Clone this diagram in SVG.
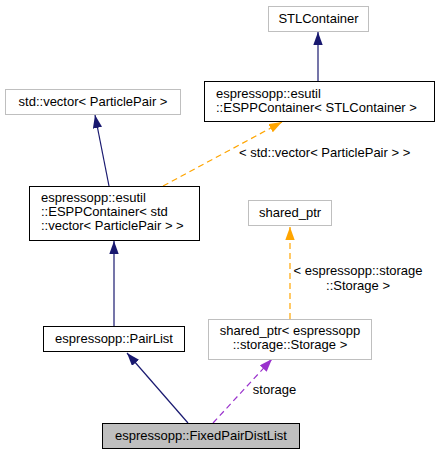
<svg xmlns="http://www.w3.org/2000/svg" width="437" height="455" viewBox="0 0 437 455">
<defs>
<style>
text{font-family:"Liberation Sans",Arial,sans-serif;font-size:13px;fill:#000}
.c{text-anchor:middle}
.g{fill:#fff;stroke:#bfbfbf;stroke-width:1}
.k{fill:#fff;stroke:#000;stroke-width:1}
.e{fill:none;stroke-width:1.2}
.blue{stroke:#191970}
.orange{stroke:orange;stroke-dasharray:6,4}
.purple{stroke:#9a32cd;stroke-dasharray:6,4}
</style>
<marker id="hb" markerUnits="userSpaceOnUse" viewBox="0 0 13 9.4" refX="13" refY="4.7" markerWidth="13" markerHeight="9.4" orient="auto"><path d="M0,0 L13,4.7 L0,9.4 z" fill="#191970"/></marker>
<marker id="ho" markerUnits="userSpaceOnUse" viewBox="0 0 13 9.4" refX="13" refY="4.7" markerWidth="13" markerHeight="9.4" orient="auto"><path d="M0,0 L13,4.7 L0,9.4 z" fill="orange"/></marker>
<marker id="hp" markerUnits="userSpaceOnUse" viewBox="0 0 13 9.4" refX="13" refY="4.7" markerWidth="13" markerHeight="9.4" orient="auto"><path d="M0,0 L13,4.7 L0,9.4 z" fill="#9a32cd"/></marker>
</defs>
<rect width="437" height="455" fill="#fff"/>
<g id="connectors">
<path class="e blue" d="M318,81 L318,32" marker-end="url(#hb)"/>
<path class="e blue" d="M109,186 L95,115" marker-end="url(#hb)"/>
<path class="e orange" d="M163,186 L282,122" marker-end="url(#ho)"/>
<text x="239" y="157">&lt; std::vector&lt; ParticlePair &gt; &gt;</text>
<path class="e blue" d="M114,326 L114,241" marker-end="url(#hb)"/>
<path class="e orange" d="M290,319 L290,227" marker-end="url(#ho)"/>
<text class="c" x="358" y="275">&lt; espressopp::storage</text>
<text class="c" x="358" y="290">::Storage &gt;</text>
<path class="e blue" d="M188,423 L127,353" marker-end="url(#hb)"/>
<path class="e purple" d="M213,423 L272,359" marker-end="url(#hp)"/>
<text class="c" x="274.5" y="394">storage</text>
</g>
<g id="node-stlcontainer">
<rect class="g" x="268.5" y="6.5" width="100" height="25"/>
<text class="c" x="318.5" y="23">STLContainer</text>
</g>
<g id="node-esppcontainer-stl">
<rect class="k" x="204.5" y="81.5" width="230" height="40"/>
<text x="216" y="98">espressopp::esutil</text>
<text x="216" y="112">::ESPPContainer&lt; STLContainer &gt;</text>
</g>
<g id="node-vector">
<rect class="g" x="5.5" y="89.5" width="175" height="25"/>
<text class="c" x="93" y="106">std::vector&lt; ParticlePair &gt;</text>
</g>
<g id="node-esppcontainer-vector">
<rect class="k" x="29.5" y="186.5" width="170" height="54"/>
<text x="41" y="202">espressopp::esutil</text>
<text x="41" y="216">::ESPPContainer&lt; std</text>
<text x="41" y="230">::vector&lt; ParticlePair &gt; &gt;</text>
</g>
<g id="node-shared-ptr">
<rect class="g" x="248.5" y="200.5" width="83" height="25"/>
<text class="c" x="290" y="217">shared_ptr</text>
</g>
<g id="node-pairlist">
<rect class="k" x="43.5" y="326.5" width="141" height="25"/>
<text class="c" x="114" y="343">espressopp::PairList</text>
</g>
<g id="node-shared-ptr-storage">
<rect class="g" x="208.5" y="319.5" width="163" height="40"/>
<text class="c" x="290" y="335">shared_ptr&lt; espressopp</text>
<text class="c" x="290" y="349">::storage::Storage &gt;</text>
</g>
<g id="node-fixedpairdistlist">
<rect x="102.5" y="423.5" width="197" height="25" fill="#bfbfbf" stroke="#000" stroke-width="1"/>
<text class="c" x="201" y="440">espressopp::FixedPairDistList</text>
</g>
</svg>
